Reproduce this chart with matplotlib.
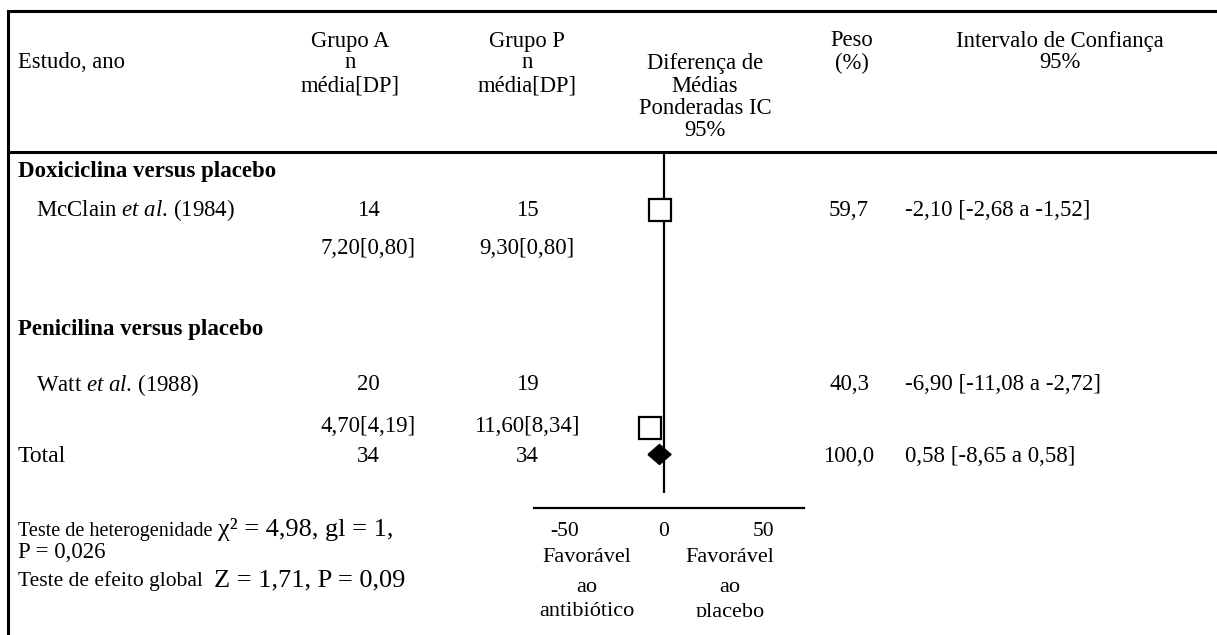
import matplotlib
matplotlib.use("Agg")
import matplotlib.pyplot as plt
from matplotlib.transforms import Bbox

W, H = 1217, 635

plt.rcParams["font.family"] = ["Liberation Serif", "DejaVu Serif"]
plt.rcParams["mathtext.fontset"] = "custom"
plt.rcParams["mathtext.rm"] = "Liberation Serif"
plt.rcParams["mathtext.it"] = "Liberation Serif:italic"

# ---- data ----
groups = ["Doxiciclina versus placebo", "Penicilina versus placebo"]
authors = ["McClain", "Watt"]
years = ["1984", "1988"]
n_a = [14, 20]
mean_a = [7.20, 4.70]
sd_a = [0.80, 4.19]
n_p = [15, 19]
mean_p = [9.30, 11.60]
sd_p = [0.80, 8.34]
weights = [59.7, 40.3]
md = [-2.10, -6.90]
ci_lo = [-2.68, -11.08]
ci_hi = [-1.52, -2.72]

total_n_a = 34
total_n_p = 34
total_weight = 100.0
pooled_md, pooled_lo, pooled_hi = 0.58, -8.65, 0.58
pooled_drawn = -2.5  # where the diamond sits in the original drawing
axis_ticks = [-50, 0, 50]


def br(v, d=2):
    return f"{v:.{d}f}".replace(".", ",")


fig = plt.figure(figsize=(W / 100, H / 100), dpi=100)
ax = fig.add_axes([0, 0, 1, 1])
ax.set_xlim(0, W)
ax.set_ylim(H, 0)
ax.axis("off")

# table frame
lw_frame = 2.2
ax.plot([8, W], [11, 11], color="black", lw=lw_frame, solid_capstyle="projecting")
ax.plot([8, W], [152, 152], color="black", lw=lw_frame, solid_capstyle="projecting")
ax.plot([8, 8], [11, H], color="black", lw=lw_frame, solid_capstyle="projecting")

# header
hfs = 16.3
col_a, col_p, col_fp, col_w, col_ci = 350, 527, 705, 852, 1060
ax.text(18, 63, "Estudo, ano", fontsize=hfs, va="center")
for cx, name in [(col_a, "Grupo A"), (col_p, "Grupo P")]:
    ax.text(cx, 41, name, fontsize=hfs, ha="center", va="center")
    ax.text(cx, 63, "n", fontsize=hfs, ha="center", va="center")
    ax.text(cx, 86, "média[DP]", fontsize=hfs, ha="center", va="center")
for y, s in zip([63, 86, 108, 131], ["Diferença de", "Médias", "Ponderadas IC", "95%"]):
    ax.text(col_fp, y, s, fontsize=hfs, ha="center", va="center")
ax.text(col_w, 41, "Peso", fontsize=hfs, ha="center", va="center")
ax.text(col_w, 63, "(%)", fontsize=hfs, ha="center", va="center")
ax.text(col_ci, 41, "Intervalo de Confiança", fontsize=hfs, ha="center", va="center")
ax.text(col_ci, 63, "95%", fontsize=hfs, ha="center", va="center")

# study rows
rfs = 16.5
group_y = [172, 330]
row_y = [210, 385]
row2_dy = [38, 42]
val_a, val_p, val_w, val_ci = 368, 527, 849, 905
for i in range(len(authors)):
    ax.text(18, group_y[i], groups[i], fontsize=rfs, fontweight="bold", va="center")
    y = row_y[i]
    ax.text(36, y, authors[i] + r" $\mathit{et\ al}$. (" + years[i] + ")", fontsize=rfs, va="center")
    ax.text(val_a, y, str(n_a[i]), fontsize=rfs, ha="center", va="center")
    ax.text(val_p, y, str(n_p[i]), fontsize=rfs, ha="center", va="center")
    ax.text(val_a, y + row2_dy[i], f"{br(mean_a[i])}[{br(sd_a[i])}]", fontsize=rfs, ha="center", va="center")
    ax.text(val_p, y + row2_dy[i], f"{br(mean_p[i])}[{br(sd_p[i])}]", fontsize=rfs, ha="center", va="center")
    ax.text(val_w, y, br(weights[i], 1), fontsize=rfs, ha="center", va="center")
    ax.text(val_ci, y, f"{br(md[i])} [{br(ci_lo[i])} a {br(ci_hi[i])}]", fontsize=rfs, va="center")

total_y = 456
ax.text(18, total_y, "Total", fontsize=17, va="center")
ax.text(val_a, total_y, str(total_n_a), fontsize=rfs, ha="center", va="center")
ax.text(val_p, total_y, str(total_n_p), fontsize=rfs, ha="center", va="center")
ax.text(val_w, total_y, br(total_weight, 1), fontsize=rfs, ha="center", va="center")
ax.text(val_ci, total_y, f"{br(pooled_md)} [{br(pooled_lo)} a {br(pooled_hi)}]", fontsize=rfs, va="center")

# footer statistics
t1 = ax.text(18, 536, "Teste de heterogenidade ", fontsize=14.5, va="baseline")
ax.annotate("χ² = 4,98, gl = 1,", xy=(1, 0), xycoords=t1, fontsize=19, va="bottom")
ax.text(18, 552, "P = 0,026", fontsize=16.5, va="center")
t2 = ax.text(18, 586, "Teste de efeito global  ", fontsize=15.5, va="baseline")
ax.annotate("Z = 1,71, P = 0,09", xy=(1, 0), xycoords=t2, fontsize=19, va="bottom")

# forest plot
fa = fig.add_axes([534 / W, (H - 508) / H, (804 - 534) / W, (508 - 152) / H])
fa.set_facecolor("none")
fa.set_xlim(-65.7, 70.7)
fa.set_ylim(508, 152)
for s in ["top", "left", "right"]:
    fa.spines[s].set_visible(False)
fa.spines["bottom"].set_linewidth(1.6)
fa.set_yticks([])
fa.set_xticks(axis_ticks)
fa.set_xticklabels([str(t) for t in axis_ticks], fontsize=15.5)
fa.tick_params(axis="x", length=0, pad=10)

fa.vlines(0, 153, 493, color="black", lw=1.6)
fa.plot(md, [210, 428], ls="none", marker="s", ms=16, mfc="white", mec="black", mew=1.6)
diamond = [(-1, 0), (0, 0.87), (1, 0), (0, -0.87), (-1, 0)]
fa.plot([pooled_drawn], [454], ls="none", marker=diamond, ms=16.6, color="black")

for x, lines, cut in [(587, ["Favorável", "ao", "antibiótico"], 622),
                      (730, ["Favorável", "ao", "placebo"], 617)]:
    clip = Bbox([[0, H - cut], [W, H]])
    for y, s in zip([558, 587, 612], lines):
        t = ax.text(x, y, s, fontsize=16, ha="center", va="center")
        t.set_clip_box(clip)
        t.set_clip_on(True)

fig.savefig("out.png", dpi=100)
